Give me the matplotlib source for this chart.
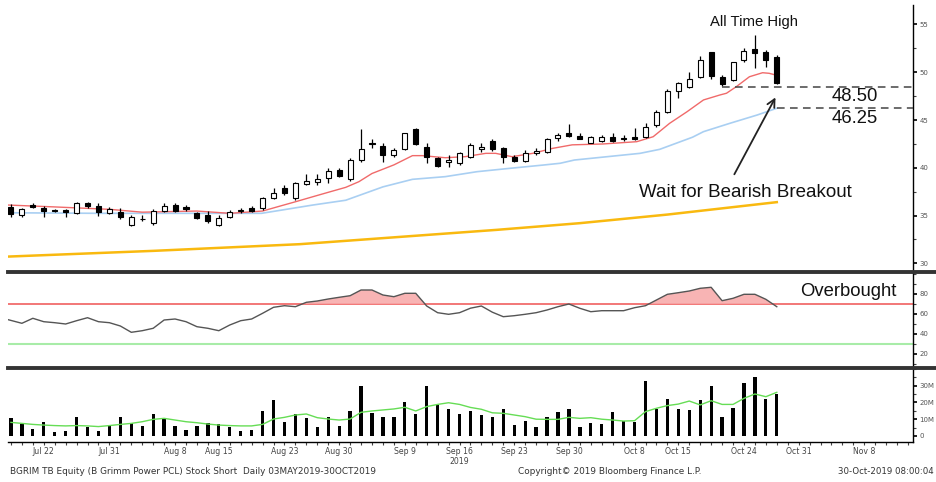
import matplotlib
matplotlib.use("Agg")
import matplotlib.pyplot as plt
import matplotlib.transforms as mtransforms
from matplotlib.lines import Line2D
from matplotlib.ticker import MultipleLocator

W, H = 936, 482

# daily candles, index 0 = 17 Jul 2019 (trading days only)
opens = [35.92, 35.08, 36.10, 35.75, 35.55, 35.54, 35.23, 36.28, 35.99, 35.29,
         35.33, 34.00, 34.68, 34.18, 35.50, 36.10, 35.85, 35.26, 35.05, 34.00,
         34.87, 35.45, 35.75, 35.75, 36.86, 37.85, 36.80, 38.33, 38.54, 38.96,
         39.76, 38.79, 40.81, 42.60, 42.28, 41.31, 41.93, 44.03, 42.20, 40.99,
         40.60, 40.47, 41.10, 41.93, 42.84, 42.03, 41.10, 40.71, 41.51, 41.68,
         43.08, 43.61, 43.33, 42.62, 42.83, 43.26, 43.12, 43.26, 43.19, 44.48,
         45.87, 48.07, 48.49, 49.47, 52.09, 49.47, 49.19, 51.28, 52.40, 52.09,
         51.57]
highs = [36.20, 35.78, 36.28, 35.99, 35.65, 35.65, 36.40, 36.40, 36.30, 35.85,
         35.75, 35.10, 35.10, 35.65, 36.28, 36.28, 36.15, 35.40, 35.47, 35.05,
         35.58, 35.80, 36.00, 36.97, 37.85, 38.20, 38.47, 39.34, 39.34, 39.94,
         39.94, 40.99, 44.03, 42.98, 42.63, 42.03, 43.68, 44.13, 42.56, 41.16,
         41.33, 41.68, 42.63, 42.63, 42.98, 42.20, 41.33, 41.86, 42.03, 43.08,
         43.68, 44.58, 43.67, 43.33, 43.40, 43.60, 43.40, 44.13, 44.72, 46.05,
         48.21, 49.00, 50.06, 51.70, 52.15, 49.71, 51.10, 52.51, 53.90, 52.33,
         51.80]
lows = [34.81, 34.87, 35.78, 34.81, 35.35, 34.87, 35.13, 35.80, 34.95, 35.20,
        34.63, 33.90, 34.40, 34.00, 35.40, 35.40, 35.50, 34.65, 34.20, 33.90,
        34.70, 35.30, 35.40, 35.60, 36.70, 37.10, 36.60, 38.19, 38.20, 38.37,
        39.07, 38.61, 40.63, 42.03, 40.63, 41.10, 41.86, 42.38, 40.53, 40.11,
        40.11, 40.29, 41.00, 41.60, 41.79, 40.53, 40.60, 40.60, 41.33, 41.58,
        42.84, 43.26, 42.98, 42.55, 42.70, 42.70, 42.80, 42.90, 43.08, 44.30,
        45.70, 47.27, 48.32, 49.37, 49.26, 48.56, 49.10, 51.10, 50.41, 50.58,
        48.77]
closes = [35.13, 35.65, 35.92, 35.50, 35.45, 35.37, 36.28, 36.03, 35.33, 35.68,
          34.81, 34.87, 34.60, 35.50, 36.03, 35.50, 35.65, 34.77, 34.42, 34.77,
          35.33, 35.58, 35.47, 36.80, 37.39, 37.39, 38.37, 38.61, 38.79, 39.66,
          39.17, 40.81, 41.93, 42.50, 41.33, 41.86, 43.61, 42.49, 41.10, 40.22,
          40.81, 41.51, 42.38, 42.20, 41.93, 41.10, 40.71, 41.58, 41.79, 42.98,
          43.43, 43.33, 43.04, 43.19, 43.19, 42.83, 43.04, 43.04, 44.30, 45.80,
          48.07, 48.84, 49.26, 51.28, 49.61, 48.77, 51.04, 52.22, 52.05, 51.28,
          48.84]

# moving averages (index, price)
ma_fast_x = [-0.3, 4, 9, 12, 14, 17, 20, 23, 24.6, 26, 27.6, 29, 30.6, 31.8, 33, 35,
             36.7, 37.6, 39.7, 41.5, 43.4, 44.3, 45.8, 47.7, 49.5, 51.3, 54.1, 57.2,
             58.7, 60.2, 61.8, 63.3, 64.8, 65.4, 66.3, 67.5, 68.7, 69.3, 69.9]
ma_fast_y = [36.1, 35.9, 35.65, 35.35, 35.4, 35.47, 35.23, 35.47, 35.99, 36.44, 36.97,
             37.43, 37.95, 38.54, 39.4, 40.3, 41.27, 41.27, 41.05, 41.16, 41.51, 41.51,
             41.16, 41.51, 42.03, 42.4, 42.49, 42.73, 43.25, 44.65, 45.87, 47.1, 47.62,
             47.8, 48.49, 49.53, 49.95, 49.89, 49.71]
ma_mid_x = [-0.3, 8, 16, 22.9, 24.8, 27.6, 30.6, 34, 36.7, 39.7, 42.6, 45.6, 48.7,
            50.2, 51.5, 57.5, 59.3, 62.3, 63.3, 65.7, 68.2, 70]
ma_mid_y = [35.29, 35.23, 35.23, 35.23, 35.58, 36.1, 36.6, 38.0, 38.79, 39.07, 39.59,
            39.94, 40.29, 40.47, 40.81, 41.51, 41.93, 43.2, 43.78, 44.65, 45.52, 46.23]
ma_slow_x = [-0.3, 13, 26.4, 44.4, 52, 60, 70]
ma_slow_y = [30.7, 31.3, 32.0, 33.5, 34.2, 35.1, 36.4]

levels = [48.50, 46.25]
level_start = [65, 70]

rsi = [54, 50.4, 55.4, 52, 51, 49.7, 53, 56, 52, 51,
       47.7, 41.4, 43, 45.4, 53.7, 54.7, 52, 47, 45.4, 43,
       48.7, 53, 54.7, 60.4, 66.4, 68, 67, 71.4, 72.7, 74.7,
       76.4, 78, 83.7, 83.7, 78.7, 77, 80.4, 80.4, 67.7, 61,
       59.4, 61, 65.5, 67.7, 61.5, 57, 58, 59.4, 61, 63.7,
       67, 69.7, 65.4, 62, 63, 63, 63, 66, 68, 73.7,
       79.4, 81, 82.7, 85.4, 86.4, 73, 75.4, 79.4, 79.4, 74.4, 67]

# volume in millions
volume = [10.5, 7.1, 4.0, 8.1, 2.2, 3.0, 11.5, 5.4, 3.2, 6.5,
          11.3, 7.5, 6.0, 12.9, 10.9, 6.0, 3.6, 6.2, 7.5, 6.9,
          5.2, 3.2, 3.8, 15.1, 21.2, 8.5, 12.9, 10.5, 5.4, 11.1,
          6.2, 15.1, 30.0, 13.5, 11.5, 11.5, 20.4, 13.1, 30.0, 18.5,
          15.9, 12.9, 15.1, 12.5, 11.1, 15.9, 6.5, 9.1, 5.2, 11.1,
          14.5, 15.9, 5.4, 7.5, 6.9, 14.5, 9.1, 8.1, 32.7, 16.1,
          22.2, 15.9, 15.3, 21.4, 29.8, 11.3, 16.9, 31.3, 34.9, 22.2, 25.0]
volume_ma = [8.1, 7.5, 6.9, 6.5, 6.2, 6.0, 6.2, 6.0, 5.6, 6.2,
             6.9, 7.5, 8.5, 9.9, 10.5, 9.5, 8.5, 7.9, 7.1, 6.5,
             6.2, 6.0, 6.0, 6.9, 10.1, 11.1, 12.5, 13.1, 10.9, 10.1,
             9.5, 10.1, 14.1, 14.9, 15.5, 16.1, 17.1, 14.9, 17.5, 18.8,
             19.8, 18.8, 17.0, 15.9, 13.8, 13.5, 12.5, 11.5, 10.0, 9.9,
             9.9, 11.1, 10.5, 10.9, 10.0, 9.5, 8.9, 9.1, 14.5, 16.5,
             18.1, 19.0, 20.8, 18.5, 21.0, 18.8, 18.8, 22.4, 25.0, 23.4, 26.0]

date_pos = [3, 9, 15, 19, 25, 30, 36, 41, 46, 51, 57, 61, 67, 72, 78]
date_labels = ["Jul 22", "Jul 31", "Aug 8", "Aug 15", "Aug 23", "Aug 30", "Sep 9",
               "Sep 16", "Sep 23", "Sep 30", "Oct 8", "Oct 15", "Oct 24", "Oct 31", "Nov 8"]

idx = list(range(len(closes)))
XMIN, XMAX = -0.27, 82.45


def fx(px):
    return px / W


def fy(py):
    return 1 - py / H


fig = plt.figure(figsize=(W / 100, H / 100), dpi=100)
fig.patch.set_facecolor("white")

ax = fig.add_axes([fx(8), fy(271.5), fx(905), (271.5 - 5) / H])
ax_rsi = fig.add_axes([fx(8), fy(368.3), fx(905), (368.3 - 271.5) / H])
ax_vol = fig.add_axes([fx(8), fy(441.7), fx(905), (441.7 - 368.3) / H])

for a in (ax, ax_rsi, ax_vol):
    a.set_xlim(XMIN, XMAX)
    for s in ("left", "top", "bottom"):
        a.spines[s].set_visible(False)
    a.spines["right"].set_linewidth(1.0)
    a.yaxis.tick_right()
    a.tick_params(axis="y", which="major", direction="out", length=3, width=1.4,
                  labelsize=5, pad=1.5, colors="#222222")
    a.tick_params(axis="y", which="minor", direction="out", length=2, width=0.8,
                  colors="#444444")
    a.tick_params(axis="y", labelcolor="#555555")

# --- price panel
ax.set_ylim(29.14, 57.04)
ax.set_yticks([30, 35, 40, 45, 50, 55])
ax.yaxis.set_minor_locator(MultipleLocator(2.5))
ax.set_xticks([])

ax.plot(ma_slow_x, ma_slow_y, color="#f9b90f", lw=1.8, zorder=1)
ax.plot(ma_mid_x, ma_mid_y, color="#a9cff2", lw=1.2, zorder=1)
ax.plot(ma_fast_x, ma_fast_y, color="#f06a6a", lw=1.0, zorder=1)

bottoms = [min(o, c) for o, c in zip(opens, closes)]
heights = [max(abs(c - o), 0.07) for o, c in zip(opens, closes)]
faces = ["white" if c >= o else "black" for o, c in zip(opens, closes)]
ax.vlines(idx, lows, highs, color="black", lw=0.9, zorder=2)
ax.bar(idx, heights, bottom=bottoms, width=0.46, color=faces, edgecolor="black",
       linewidth=0.8, zorder=3)

for lv, st in zip(levels, level_start):
    ax.plot([st, XMAX], [lv, lv], color="#444444", lw=1.1, ls=(0, (5, 3.5)), zorder=4)

txt_font = ["Liberation Sans", "DejaVu Sans"]
ax.text(77.1, 47.44, f"{levels[0]:.2f}", ha="center", va="center", fontsize=13.3,
        family=txt_font, color="#111111")
ax.text(77.1, 45.18, f"{levels[1]:.2f}", ha="center", va="center", fontsize=13.3,
        family=txt_font, color="#111111")
ax.text(67.9, 55.29, "All Time High", ha="center", va="center", fontsize=10.7,
        family=txt_font, color="#111111")
ax.text(67.1, 37.39, "Wait for Bearish Breakout", ha="center", va="center",
        fontsize=13.5, family=txt_font, color="#111111")
ax.annotate("", xy=(70.0, 47.62), xytext=(66.0, 39.06),
            arrowprops=dict(arrowstyle="->", lw=1.3, color="#222222", mutation_scale=14))

# --- RSI panel
ax_rsi.set_ylim(5.4, 102.2)
ax_rsi.set_yticks([20, 40, 60, 80])
ax_rsi.yaxis.set_minor_locator(MultipleLocator(10))
ax_rsi.set_xticks([])
ax_rsi.axhline(70, color="#f06060", lw=1.2, zorder=1)
ax_rsi.axhline(30, color="#a8eca8", lw=1.5, zorder=1)
rsi_x = [-0.25] + idx[1:]
ax_rsi.fill_between(rsi_x, rsi, 70, where=[r > 70 for r in rsi], interpolate=True,
                    color="#f8b4b4", lw=0, zorder=1)
ax_rsi.plot(rsi_x, rsi, color="#555555", lw=1.0, zorder=2)
ax_rsi.text(76.5, 82, "Overbought", ha="center", va="center", fontsize=13.3,
            family=txt_font, color="#111111")

# --- volume panel
ax_vol.set_ylim(-3.4, 40.3)
ax_vol.set_yticks([0, 10, 20, 30])
ax_vol.set_yticklabels(["0", "10M", "20M", "30M"])
ax_vol.yaxis.set_minor_locator(MultipleLocator(5))
ax_vol.bar(idx, volume, width=0.3, color="black", zorder=2)
ax_vol.plot(idx, volume_ma, color="#66dd55", lw=1.0, zorder=3)
ax_vol.spines["bottom"].set_visible(True)
ax_vol.spines["bottom"].set_linewidth(1.0)
ax_vol.set_xticks(date_pos)
ax_vol.set_xticklabels(date_labels)
ax_vol.xaxis.set_minor_locator(MultipleLocator(1))
ax_vol.tick_params(axis="x", which="both", direction="out", length=2.5, width=0.8,
                   colors="#444444", labelsize=5.6, pad=1.5)
trans = mtransforms.blended_transform_factory(ax_vol.transData, fig.transFigure)
ax_vol.text(41, fy(461), "2019", ha="center", va="center", fontsize=5.6,
            color="#444444", transform=trans)

# panel separators
for ysep in (271.5, 368.3):
    fig.add_artist(Line2D([fx(8), 1.0], [fy(ysep), fy(ysep)], transform=fig.transFigure,
                          lw=2.8, color="#333333"))

fig.text(fx(10), fy(471.7), "BGRIM TB Equity (B Grimm Power PCL) Stock Short  Daily 03MAY2019-30OCT2019",
         ha="left", va="center", fontsize=6.4, color="#333333")
fig.text(fx(518), fy(471.7), "Copyright\u00a9 2019 Bloomberg Finance L.P.",
         ha="left", va="center", fontsize=6.4, color="#333333")
fig.text(fx(934), fy(471.7), "30-Oct-2019 08:00:04", ha="right", va="center",
         fontsize=6.2, color="#333333")

fig.savefig("out.png", dpi=100, facecolor="white")
